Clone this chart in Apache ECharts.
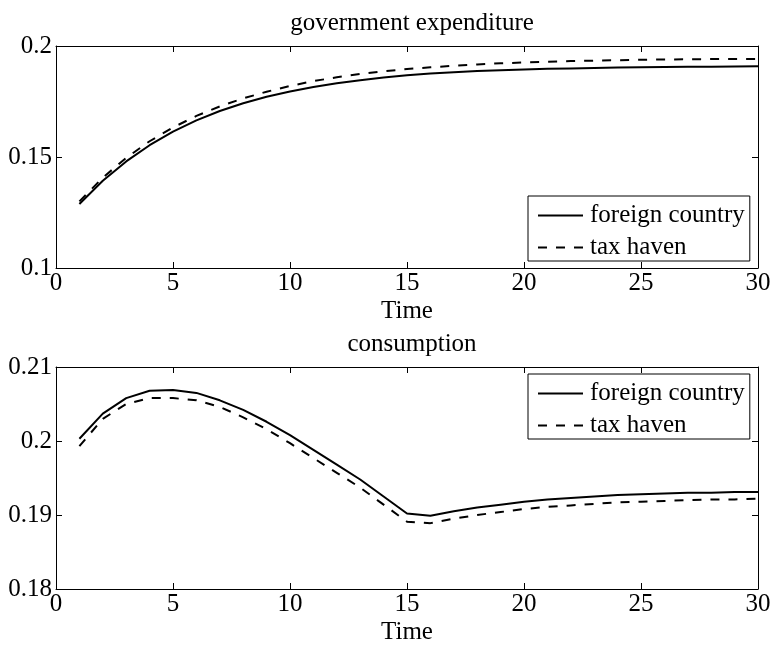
<!DOCTYPE html>
<html>
<head>
<meta charset="utf-8">
<title>government expenditure and consumption</title>
<script src="https://cdn.jsdelivr.net/npm/echarts@6/dist/echarts.min.js"></script>
<style>
  html, body { margin: 0; padding: 0; background: #fff; }
  #chart { width: 775px; height: 647px; }
</style>
</head>
<body>
<div id="chart"></div>
<script>
// Time periods
const periods = [1,2,3,4,5,6,7,8,9,10,11,12,13,14,15,16,17,18,19,20,21,22,23,24,25,26,27,28,29,30];

// Government expenditure paths
const govForeign = [0.1288,0.1393,0.1480,0.1553,0.1614,0.1665,0.1707,0.1742,0.1771,0.1795,
                    0.1815,0.1832,0.1846,0.1858,0.1868,0.1876,0.1882,0.1887,0.1891,0.1894,
                    0.1897,0.1899,0.1901,0.1903,0.1904,0.1905,0.1906,0.1907,0.1908,0.1909];
const govHaven   = [0.1300,0.1407,0.1496,0.1571,0.1633,0.1685,0.1728,0.1764,0.1794,0.1820,
                    0.1842,0.1859,0.1874,0.1886,0.1896,0.1904,0.1911,0.1917,0.1922,0.1926,
                    0.1929,0.1932,0.1934,0.1936,0.1938,0.1939,0.1940,0.1941,0.1942,0.1942];

// Consumption paths
const consForeign = [0.2003,0.2037,0.2058,0.2068,0.2069,0.2065,0.2055,0.2042,0.2026,0.2008,
                     0.1988,0.1968,0.1948,0.1925,0.1902,0.1899,0.1905,0.1910,0.1914,0.1918,
                     0.1921,0.1923,0.1925,0.1927,0.1928,0.1929,0.1930,0.1930,0.1931,0.1931];
const consHaven   = [0.1993,0.2030,0.2050,0.2058,0.2058,0.2055,0.2046,0.2032,0.2016,0.1997,
                     0.1977,0.1957,0.1937,0.1914,0.1891,0.1889,0.1895,0.1900,0.1904,0.1908,
                     0.1911,0.1913,0.1915,0.1917,0.1918,0.1919,0.1920,0.1921,0.1921,0.1922];

// Axis ticks
const xTicks = [0, 5, 10, 15, 20, 25, 30];
const govTicks = [0.1, 0.15, 0.2];
const consTicks = [0.18, 0.19, 0.2, 0.21];

const seriesNames = ['foreign country', 'tax haven'];
const panelTitles = ['government expenditure', 'consumption'];
const xName = 'Time';

const FONT = 'Liberation Serif';
const FS = 25;
const black = '#000';

const pair = ys => periods.map((t, i) => [t, ys[i]]);
const fmt = v => String(+v.toFixed(4));

const gridTops = [46, 367];
const gridH = 222;
const gridLeft = 56;
const gridRight = 17;
const panels = [
  { ticks: govTicks, data: [govForeign, govHaven], legendTop: 196 },
  { ticks: consTicks, data: [consForeign, consHaven], legendTop: 374 }
];

const grid = [], xAxis = [], yAxis = [], series = [], legend = [], title = [];
const plotCenter = gridLeft + (775 - gridLeft - gridRight) / 2;

panels.forEach((p, k) => {
  grid.push({ left: gridLeft, right: gridRight, top: gridTops[k], height: gridH, containLabel: false });
  const tickStyle = { show: true, inside: true, length: 6, lineStyle: { color: black, width: 1 } };
  const lineStyle = { show: true, onZero: false, lineStyle: { color: black, width: 1 } };
  const xStep = xTicks[1] - xTicks[0];
  xAxis.push({
    type: 'value', gridIndex: k, position: 'bottom',
    min: xTicks[0], max: xTicks[xTicks.length - 1], interval: xStep,
    axisLine: lineStyle, axisTick: tickStyle, splitLine: { show: false },
    axisLabel: { color: black, fontFamily: FONT, fontSize: FS, margin: 3 },
    name: xName, nameLocation: 'middle', nameGap: 31,
    nameTextStyle: { color: black, fontFamily: FONT, fontSize: FS }
  });
  xAxis.push({
    type: 'value', gridIndex: k, position: 'top',
    min: xTicks[0], max: xTicks[xTicks.length - 1], interval: xStep,
    axisLine: lineStyle, axisTick: tickStyle, splitLine: { show: false },
    axisLabel: { show: false }
  });
  const yStep = +(p.ticks[1] - p.ticks[0]).toFixed(4);
  yAxis.push({
    type: 'value', gridIndex: k, position: 'left',
    min: p.ticks[0], max: p.ticks[p.ticks.length - 1], interval: yStep,
    axisLine: lineStyle, axisTick: tickStyle, splitLine: { show: false },
    axisLabel: { color: black, fontFamily: FONT, fontSize: FS, margin: 4, formatter: fmt }
  });
  yAxis.push({
    type: 'value', gridIndex: k, position: 'right',
    min: p.ticks[0], max: p.ticks[p.ticks.length - 1], interval: yStep,
    axisLine: lineStyle, axisTick: tickStyle, splitLine: { show: false },
    axisLabel: { show: false }
  });
  p.data.forEach((ys, j) => {
    series.push({
      type: 'line', name: seriesNames[j],
      xAxisIndex: 2 * k, yAxisIndex: 2 * k,
      data: pair(ys),
      showSymbol: false, symbol: 'none', smooth: false,
      lineStyle: { color: black, width: 2, type: j === 0 ? 'solid' : [9, 9] },
      itemStyle: { color: black },
      emphasis: { disabled: true },
      animation: false
    });
  });
  legend.push({
    data: seriesNames.slice(),
    orient: 'vertical', left: 528, top: p.legendTop,
    itemWidth: 45, itemHeight: 14, itemGap: 7,
    padding: [7, 5, 1, 9],
    borderColor: black, borderWidth: 1, backgroundColor: '#fff',
    selectedMode: false,
    itemStyle: { opacity: 0, borderWidth: 0 },
    textStyle: { color: black, fontFamily: FONT, fontSize: FS, padding: [0, 0, 0, 2] }
  });
  title.push({
    text: panelTitles[k], left: plotCenter, textAlign: 'center',
    top: gridTops[k] - 40,
    textStyle: { color: black, fontFamily: FONT, fontSize: FS, fontWeight: 'normal' }
  });
});

const chart = echarts.init(document.getElementById('chart'), null, { renderer: 'canvas' });
chart.setOption({
  backgroundColor: '#fff',
  animation: false,
  title, grid, xAxis, yAxis, series, legend,
  tooltip: { show: false }
});
</script>
</body>
</html>
